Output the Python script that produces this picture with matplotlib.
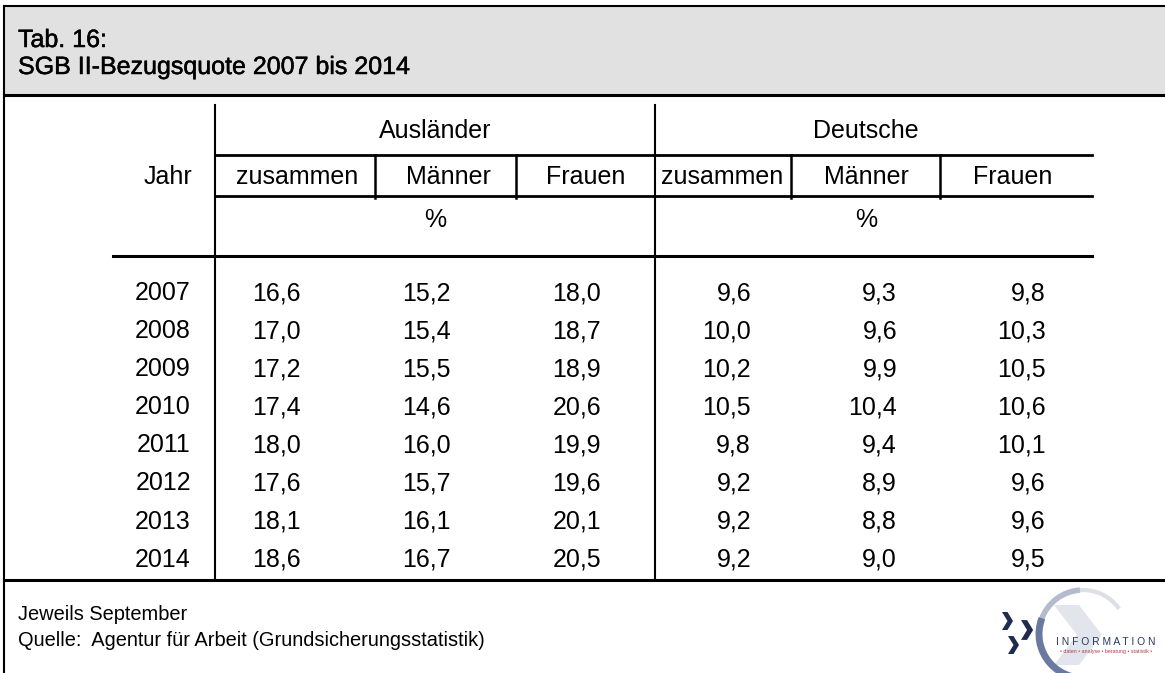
import matplotlib
matplotlib.use("Agg")
import matplotlib.pyplot as plt
import matplotlib.patheffects as pe
from matplotlib.patches import Rectangle, Arc, Polygon

# ---- data ----
title_line1 = "Tab. 16:"
title_line2 = "SGB II-Bezugsquote 2007 bis 2014"
groups = ["Ausländer", "Deutsche"]
subcols = ["zusammen", "Männer", "Frauen"]
unit = "%"
years = [2007, 2008, 2009, 2010, 2011, 2012, 2013, 2014]
ausl_zus = [16.6, 17.0, 17.2, 17.4, 18.0, 17.6, 18.1, 18.6]
ausl_m = [15.2, 15.4, 15.5, 14.6, 16.0, 15.7, 16.1, 16.7]
ausl_f = [18.0, 18.7, 18.9, 20.6, 19.9, 19.6, 20.1, 20.5]
deu_zus = [9.6, 10.0, 10.2, 10.5, 9.8, 9.2, 9.2, 9.2]
deu_m = [9.3, 9.6, 9.9, 10.4, 9.4, 8.9, 8.8, 9.0]
deu_f = [9.8, 10.3, 10.5, 10.6, 10.1, 9.6, 9.6, 9.5]
footnote = "Jeweils September"
source = "Quelle:  Agentur für Arbeit (Grundsicherungsstatistik)"
logo_word = "I N F O R M A T I O N"
logo_sub = "• daten • analyse • beratung • statistik •"

W, H = 1165, 673
fig = plt.figure(figsize=(W / 100, H / 100), dpi=100)
ax = fig.add_axes([0, 0, 1, 1])
ax.set_xlim(0, W)
ax.set_ylim(H, 0)
ax.axis("off")

FONT = "Liberation Sans"
TS = 18
FS = 18
FT = 14.4

# header box
ax.add_patch(Rectangle((4, 6), W, 89, facecolor="#e1e1e1", edgecolor="none", zorder=0))
ax.plot([4, W], [6, 6], color="black", lw=1.5)
ax.plot([4, 4], [6, H], color="black", lw=1.5)
ax.plot([4, W], [95, 95], color="black", lw=2.2)
heavy = [pe.withStroke(linewidth=0.35, foreground="black")]
ax.text(18, 40, title_line1, fontsize=TS, family=FONT, va="center", ha="left",
        path_effects=heavy)
ax.text(18, 67, title_line2, fontsize=TS, family=FONT, va="center", ha="left",
        path_effects=heavy)

# table geometry
x_left_line = 113
x_right_line = 1092
x_sep_main = [215, 655]
sub_seps = [[375, 516], [791, 940]]
group_centers = [435, 866]
sub_centers = [[297, 448, 586], [722, 866, 1013]]
val_right = [[301, 451, 601], [751, 897, 1046]]
year_right = 191
y_group = 131
y_line1 = 155
y_sub = 177
y_line2 = 196
y_unit = 220
y_thick = 256
y_row0 = 293
row_step = 38.1
y_table_bottom = 578
y_footer_line = 580

for xs in x_sep_main:
    ax.plot([xs, xs], [105, y_table_bottom], color="black", lw=1.5)
ax.plot([x_sep_main[0], x_right_line], [y_line1, y_line1], color="black", lw=2)
ax.plot([x_sep_main[0], x_right_line], [y_line2, y_line2], color="black", lw=2)
ax.plot([x_left_line, x_right_line], [y_thick, y_thick], color="black", lw=2.2)
for seps in sub_seps:
    for xs in seps:
        ax.plot([xs, xs], [y_line1, y_line2 + 2], color="black", lw=1.8)

ax.text(168, y_sub, "Jahr", fontsize=FS, family=FONT, ha="center", va="center")
for g, gc, scs in zip(groups, group_centers, sub_centers):
    ax.text(gc, y_group, g, fontsize=FS, family=FONT, ha="center", va="center")
    ax.text(gc, y_unit, unit, fontsize=FS, family=FONT, ha="center", va="center")
    for s, c in zip(subcols, scs):
        ax.text(c, y_sub, s, fontsize=FS, family=FONT, ha="center", va="center")

columns = [[ausl_zus, ausl_m, ausl_f], [deu_zus, deu_m, deu_f]]
for i, yr in enumerate(years):
    y = y_row0 + i * row_step
    ax.text(year_right, y, str(yr), fontsize=FS, family=FONT, ha="right", va="center")
    for gcols, rights in zip(columns, val_right):
        for col, xr in zip(gcols, rights):
            ax.text(xr, y, f"{col[i]:.1f}".replace(".", ","), fontsize=FS,
                    family=FONT, ha="right", va="center")

ax.plot([4, W], [y_footer_line, y_footer_line], color="black", lw=2.2)
ax.text(18, 614, footnote, fontsize=FT, family=FONT, ha="left", va="center")
ax.text(18, 640, source, fontsize=FT, family=FONT, ha="left", va="center")

# logo (approximation)
ax.add_patch(Polygon([[1054, 605], [1079, 605], [1102, 635], [1079, 665],
                      [1054, 665], [1077, 635]], closed=True,
                     facecolor="#e2e5ec", edgecolor="none", zorder=1))
ax.add_patch(Arc((1083, 634), 88, 88, theta1=265, theta2=325, color="#dcdfe6", lw=3, zorder=2))
ax.add_patch(Arc((1083, 634), 88, 88, theta1=200, theta2=266, color="#b3bbcd", lw=4, zorder=2))
ax.add_patch(Arc((1083, 634), 88, 88, theta1=75, theta2=201, color="#6a79a0", lw=5, zorder=2))
navy = "#1f2b4f"
for (cx, cy, s) in [(1002, 621, 1.0), (1021, 630, 1.1), (1008, 645, 1.0)]:
    w, h, t = 11 * s, 9 * s, 5.5 * s
    ax.add_patch(Polygon([[cx, cy - h], [cx + t, cy - h], [cx + w, cy], [cx + t, cy + h],
                          [cx, cy + h], [cx + w - t, cy]], closed=True,
                         facecolor=navy, edgecolor="none", zorder=3))
ax.text(1106, 642, logo_word, fontsize=7.4, family=FONT, color="#2b3a62",
        ha="center", va="center", zorder=4)
ax.text(1106, 652, logo_sub, fontsize=3.8, family=FONT, color="#b04048",
        ha="center", va="center", zorder=4)

fig.savefig("out.png", dpi=100)
